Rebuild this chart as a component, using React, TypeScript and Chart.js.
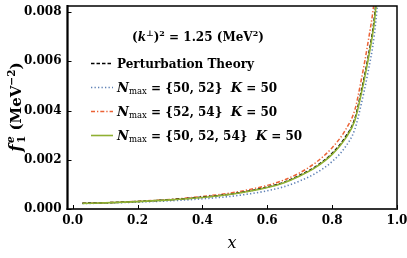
import { useEffect, useRef } from 'react';
import { Chart, registerables } from 'chart.js';

Chart.register(...registerables);

// ---- data ----
const xs = [0.03, 0.1, 0.2, 0.3, 0.4, 0.5, 0.6, 0.65, 0.7, 0.75, 0.8, 0.84, 0.87, 0.89, 0.91, 0.93, 0.95];
const pertTheory = [0.000235, 0.000255, 0.000306, 0.000377, 0.00048, 0.00063, 0.00089, 0.00108, 0.00137, 0.00173, 0.00226, 0.00291, 0.00367, 0.0048, 0.0061, 0.00775, 0.0106];
const nmax5052 = [0.000223, 0.00024, 0.00028, 0.000333, 0.000414, 0.000533, 0.00074, 0.0009, 0.00114, 0.00146, 0.00193, 0.00251, 0.00324, 0.00428, 0.00552, 0.00707, 0.00978];
const nmax5254 = [0.000235, 0.000253, 0.00031, 0.00039, 0.00051, 0.00068, 0.00096, 0.00117, 0.00147, 0.00189, 0.00249, 0.00319, 0.00403, 0.00526, 0.00672, 0.00851, 0.01165];
const nmax505254 = [0.00023, 0.00025, 0.0003, 0.00037, 0.00047, 0.00062, 0.00087, 0.00106, 0.00134, 0.0017, 0.00222, 0.00285, 0.0036, 0.0047, 0.006, 0.0076, 0.0104];
const xTicks = [0, 0.2, 0.4, 0.6, 0.8, 1.0];
const yTicks = [0, 0.002, 0.004, 0.006, 0.008];

const BLUE = '#5E81B5';
const RED = '#EB6235';
const GREEN = '#8FB032';
const SERIF = '"DejaVu Serif", serif';

type Seg = { t: string; f: string; dy?: number; stack?: boolean };

function richWidth(ctx: CanvasRenderingContext2D, segs: Seg[]) {
  let x = 0;
  let prevStart = 0;
  let prevW = 0;
  for (const s of segs) {
    ctx.font = s.f;
    const w = ctx.measureText(s.t).width;
    if (s.stack) {
      const nw = Math.max(prevW, w);
      x = prevStart + nw;
      prevW = nw;
    } else {
      prevStart = x;
      prevW = w;
      x += w;
    }
  }
  return x;
}

function drawRich(ctx: CanvasRenderingContext2D, segs: Seg[], x0: number, y: number) {
  let x = x0;
  let prevStart = x0;
  let prevW = 0;
  ctx.textBaseline = 'alphabetic';
  ctx.textAlign = 'left';
  for (const s of segs) {
    ctx.font = s.f;
    const w = ctx.measureText(s.t).width;
    if (s.stack) {
      ctx.fillText(s.t, prevStart, y + (s.dy || 0));
      const nw = Math.max(prevW, w);
      x = prevStart + nw;
      prevW = nw;
    } else {
      ctx.fillText(s.t, x, y + (s.dy || 0));
      prevStart = x;
      prevW = w;
      x += w;
    }
  }
}

const B = (px: number) => `bold ${px}px ${SERIF}`;
const BI = (px: number) => `italic bold ${px}px ${SERIF}`;
const R = (px: number) => `${px}px ${SERIF}`;
const I = (px: number) => `italic ${px}px ${SERIF}`;

const legendRows = [
  { color: '#000', dash: [3.5, 2], width: 1.5, segs: [{ t: 'Perturbation Theory', f: B(12) }] as Seg[] },
  {
    color: BLUE, dash: [1.3, 2.2], width: 1.6,
    segs: [
      { t: 'N', f: BI(13) }, { t: 'max', f: R(8.5), dy: 2.5 },
      { t: ' = {50, 52}  ', f: B(12) }, { t: 'K', f: BI(13) }, { t: ' = 50', f: B(12) },
    ] as Seg[],
  },
  {
    color: RED, dash: [4, 2, 1.3, 2], width: 1.5,
    segs: [
      { t: 'N', f: BI(13) }, { t: 'max', f: R(8.5), dy: 2.5 },
      { t: ' = {52, 54}  ', f: B(12) }, { t: 'K', f: BI(13) }, { t: ' = 50', f: B(12) },
    ] as Seg[],
  },
  {
    color: GREEN, dash: [], width: 1.6,
    segs: [
      { t: 'N', f: BI(13) }, { t: 'max', f: R(8.5), dy: 2.5 },
      { t: ' = {50, 52, 54}  ', f: B(12) }, { t: 'K', f: BI(13) }, { t: ' = 50', f: B(12) },
    ] as Seg[],
  },
];

const decor = {
  id: 'decor',
  afterDraw(chart: any) {
    const ctx: CanvasRenderingContext2D = chart.ctx;
    const { left, right, top, bottom } = chart.chartArea;
    const xs_ = chart.scales.x;
    const ys_ = chart.scales.y;
    ctx.save();
    // frame
    ctx.strokeStyle = '#000';
    ctx.lineWidth = 1.5;
    ctx.setLineDash([]);
    ctx.strokeRect(left, top, right - left, bottom - top);
    ctx.strokeStyle = '#333';
    ctx.lineWidth = 2;
    ctx.beginPath();
    ctx.moveTo(left - 1, bottom);
    ctx.lineTo(right + 1, bottom);
    ctx.stroke();
    ctx.strokeStyle = '#000';
    ctx.beginPath();
    ctx.moveTo(left, top - 1);
    ctx.lineTo(left, bottom + 1);
    ctx.stroke();
    // inward ticks
    ctx.lineWidth = 1;
    ctx.strokeStyle = '#000';
    for (const v of xTicks) {
      const px = Math.round(xs_.getPixelForValue(v)) + 0.5;
      ctx.beginPath();
      ctx.moveTo(px, bottom);
      ctx.lineTo(px, bottom - 4);
      ctx.stroke();
    }
    for (const v of yTicks) {
      const py = Math.round(ys_.getPixelForValue(v)) + 0.5;
      ctx.beginPath();
      ctx.moveTo(left, py);
      ctx.lineTo(left + 4, py);
      ctx.stroke();
    }
    ctx.fillStyle = '#000';
    // x title
    ctx.font = I(16);
    ctx.textAlign = 'center';
    ctx.textBaseline = 'middle';
    ctx.fillText('x', 232, 244);
    // y title (rotated)
    const ySegs: Seg[] = [
      { t: 'f', f: BI(16) },
      { t: '\u2009', f: B(8) },
      { t: '1', f: B(10.5), dy: 4 },
      { t: 'e', f: BI(10.5), dy: -7, stack: true },
      { t: ' (MeV', f: B(15) },
      { t: '\u22122', f: B(10.5), dy: -6 },
      { t: ')', f: B(15) },
    ];
    ctx.save();
    ctx.translate(21, 107);
    ctx.rotate(-Math.PI / 2);
    const yw = richWidth(ctx, ySegs);
    drawRich(ctx, ySegs, -yw / 2, 0);
    ctx.restore();
    // legend heading
    const head: Seg[] = [
      { t: '(', f: B(12) },
      { t: 'k', f: BI(12) },
      { t: '\u22A5', f: B(8), dy: -5 },
      { t: ')', f: B(12) },
      { t: '2', f: B(8), dy: -5 },
      { t: ' = 1.25 (MeV', f: B(12) },
      { t: '2', f: B(8), dy: -5 },
      { t: ')', f: B(12) },
    ];
    drawRich(ctx, head, 132, 41);
    // legend rows
    const rowY = [63, 87, 111, 135];
    legendRows.forEach((row, i) => {
      const y = rowY[i];
      ctx.strokeStyle = row.color;
      ctx.lineWidth = row.width;
      ctx.setLineDash(row.dash);
      ctx.beginPath();
      ctx.moveTo(91, y + 0.5);
      ctx.lineTo(113, y + 0.5);
      ctx.stroke();
      ctx.setLineDash([]);
      ctx.fillStyle = '#000';
      drawRich(ctx, row.segs, 117, y + 4.5);
    });
    ctx.restore();
  },
};

export default function App() {
  const ref = useRef<HTMLCanvasElement>(null);
  useEffect(() => {
    document.body.style.margin = '0';
    const mk = (ys: number[]) => xs.map((x, i) => ({ x, y: ys[i] }));
    const tickFont = { family: SERIF, size: 12, weight: 'bold' as const };
    const chart = new Chart(ref.current!, {
      type: 'line',
      data: {
        datasets: [
          { label: 'Perturbation Theory', data: mk(pertTheory), borderColor: '#000', borderWidth: 1.5, borderDash: [3.5, 2], pointRadius: 0, cubicInterpolationMode: 'monotone', order: 2 },
          { label: 'Nmax = {50, 52} K = 50', data: mk(nmax5052), borderColor: BLUE, borderWidth: 1.6, borderDash: [1.3, 2.2], pointRadius: 0, cubicInterpolationMode: 'monotone', order: 3 },
          { label: 'Nmax = {52, 54} K = 50', data: mk(nmax5254), borderColor: RED, borderWidth: 1.5, borderDash: [4, 2, 1.3, 2], pointRadius: 0, cubicInterpolationMode: 'monotone', order: 4 },
          { label: 'Nmax = {50, 52, 54} K = 50', data: mk(nmax505254), borderColor: GREEN, borderWidth: 1.6, pointRadius: 0, cubicInterpolationMode: 'monotone', order: 1 },
        ],
      },
      options: {
        animation: false,
        responsive: false,
        layout: { padding: { top: 6, right: 10, left: 0, bottom: 0 } },
        plugins: { legend: { display: false }, tooltip: { enabled: false } },
        scales: {
          x: {
            type: 'linear',
            min: -0.016,
            max: 1.0,
            afterBuildTicks: (s: any) => { s.ticks = xTicks.map((v) => ({ value: v })); },
            afterFit: (s: any) => { s.height = 49; },
            grid: { display: false },
            border: { display: false },
            ticks: { font: tickFont, color: '#000', padding: -3, maxRotation: 0, callback: (v: any) => Number(v).toFixed(1) },
          },
          y: {
            type: 'linear',
            min: 0,
            max: 0.00825,
            afterBuildTicks: (s: any) => { s.ticks = yTicks.map((v) => ({ value: v })); },
            afterFit: (s: any) => { s.width = 67.5; },
            grid: { display: false },
            border: { display: false },
            ticks: { font: tickFont, color: '#000', padding: -2, callback: (v: any) => Number(v).toFixed(3) },
          },
        },
      },
      plugins: [decor],
    });
    return () => chart.destroy();
  }, []);
  return <canvas ref={ref} width={407} height={258} style={{ display: 'block' }} />;
}
